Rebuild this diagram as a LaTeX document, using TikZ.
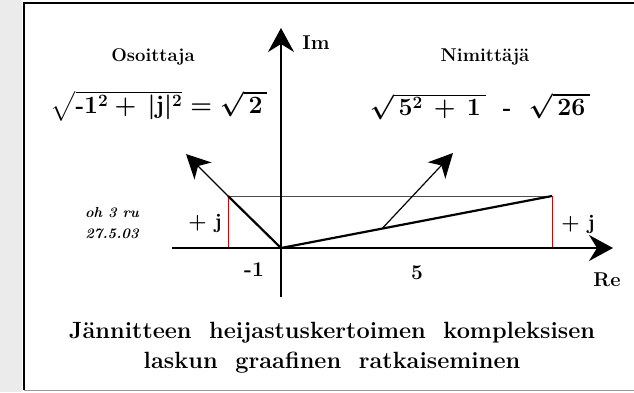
\documentclass[tikz,border=0pt]{standalone}
\usepackage{amsmath}
\usetikzlibrary{positioning,arrows.meta,calc}

\begin{document}
\begin{tikzpicture}[
  x=1pt,y=-1pt,
  font=\bfseries,
  % --- line styles ---
  axis/.style    ={draw=black,line width=1.8pt,
                   -{Stealth[length=24pt,width=26pt,inset=8pt]}},
  vect/.style    ={draw=black,line width=2.2pt},
  guide/.style   ={draw=black!70,line width=0.9pt},
  redline/.style ={draw=red!85!black,line width=0.9pt},
  pointer/.style ={draw=black,line width=1.2pt,
                   -{Stealth[length=24pt,width=24pt,inset=7pt]}},
  % --- text styles ---
  axislbl/.style ={font=\fontsize{20}{22}\selectfont\bfseries,inner sep=1pt},
  title/.style   ={font=\fontsize{18.5}{22}\selectfont\bfseries,inner sep=1pt},
  formula/.style ={font=\fontsize{23}{26}\selectfont\bfseries\boldmath,inner sep=1pt},
  ticklbl/.style ={font=\fontsize{21}{24}\selectfont\bfseries,inner sep=1pt},
  note/.style    ={font=\fontsize{14.5}{21}\selectfont\bfseries\itshape,
                   align=center,inner sep=1pt},
  caption/.style ={font=\fontsize{23.5}{30}\selectfont\bfseries,align=center,
                   inner sep=1pt},
]

% ============================ frame ============================
\useasboundingbox (0,0) rectangle (634,392);
\fill[black!8] (0,0) rectangle (22,392);
\draw[line width=2pt] (634,3) -- (24,3) -- (24,390);
\draw[black!40,line width=1pt] (24,390) -- (634,390);

% ============================ points ===========================
\coordinate (O)   at (281,248);
\coordinate (Am)  at (228,248);
\coordinate (A)   at (228,196);
\coordinate (B0)  at (552,248);
\coordinate (B)   at (552,196);
\coordinate (xL)  at (172,248);
\coordinate (xR)  at (613,248);
\coordinate (yB)  at (281,297);
\coordinate (yT)  at (281,28);
\coordinate (pA)  at (186,154);
\coordinate (pBs) at ($(O)!0.373!(B)$);
\coordinate (pB)  at (453,153);

% ============================ axes =============================
\draw[guide] (A) -- (B);
\draw[redline] (A) -- (Am);
\draw[redline] (B) -- (B0);
\draw[axis] (xL) -- (xR);
\draw[axis] (yB) -- (yT);

% ============================ vectors ==========================
\draw[vect] (A) -- (O);
\draw[vect] (O) -- (B);
\draw[pointer] (A) -- (pA);
\draw[pointer] (pBs) -- (pB);

% ============================ labels ===========================
\node[axislbl] (imlbl) at (316,43) {Im};
\node[axislbl] (relbl) at (607,280) {Re};
\node[ticklbl] (mone) at (254,270) {-1};
\node[ticklbl] (five) at (417,273) {5};
\node[ticklbl] (jleft) at (205,223) {+ j};
\node[ticklbl] (jright) at (578,224) {+ j};
\node[note] (date) at (112,223) {oh 3 ru\\27.5.03};

\node[title] (num) at (153,57) {Osoittaja};
\node[formula] (numeq) at (159,106)
  {$\sqrt{\text{-}1^2+\,|\mathbf{j}|^2}=\sqrt{\,2\,}$};
\node[title] (den) at (485,57) {Nimittäjä};
\node[formula] (deneq) at (480,106)
  {$\sqrt{\,5^2\,+\,1\,}\ \ \text{-}\ \ \sqrt{\,26\,}$};

\node[caption] (cap) at (332,348)
  {Jännitteen\ \ heijastuskertoimen\ \ kompleksisen\\
   laskun\ \ graafinen\ \ ratkaiseminen};

\end{tikzpicture}
\end{document}
